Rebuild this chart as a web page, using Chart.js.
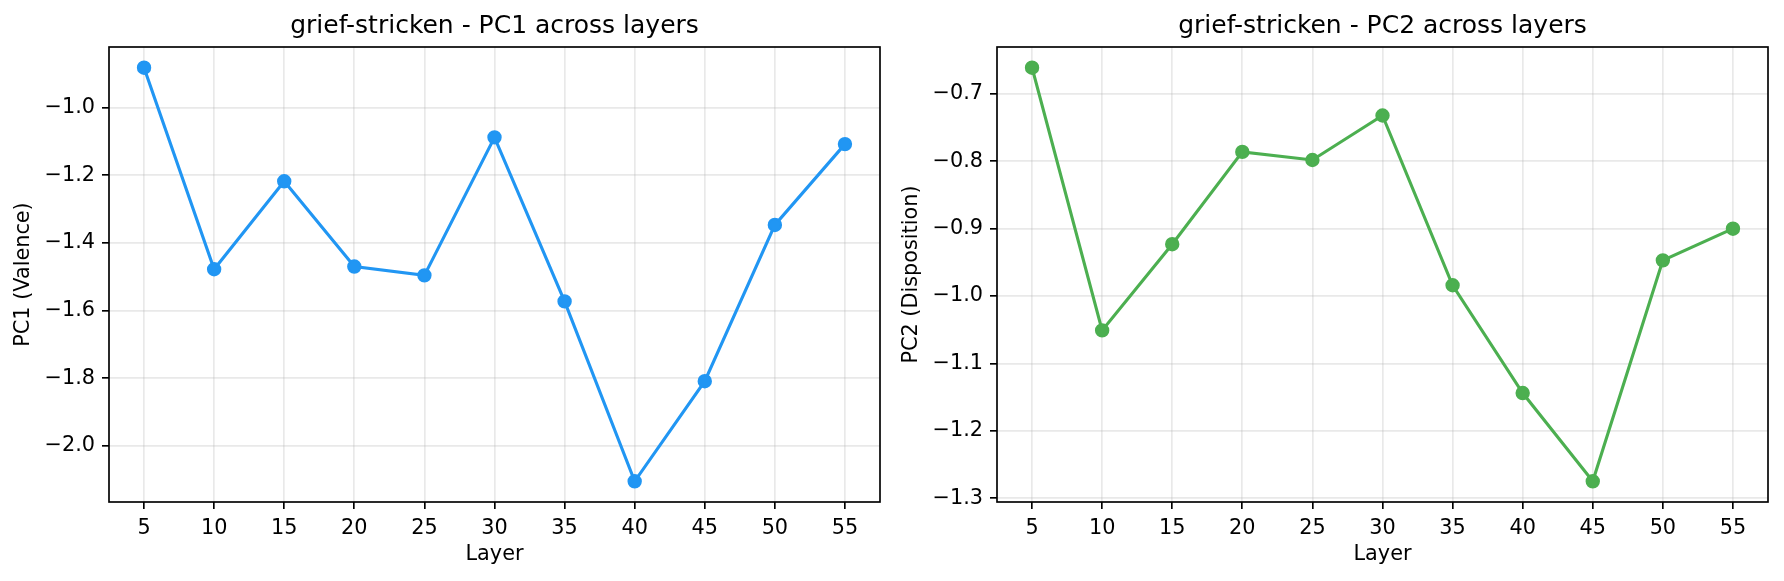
<!DOCTYPE html>
<html>
<head>
<meta charset="utf-8">
<script src="https://cdn.jsdelivr.net/npm/chart.js@4.4.0/dist/chart.umd.min.js"></script>
<style>
  html, body { margin: 0; padding: 0; background: #ffffff; }
  #wrap { position: relative; width: 1784px; height: 581px; overflow: hidden; background: #fff; }
  .panel { position: absolute; top: 0; width: 892px; height: 581px; }
</style>
</head>
<body>
<div id="wrap">
  <div class="panel" style="left:0px"><canvas id="c1" width="892" height="581"></canvas></div>
  <div class="panel" style="left:892px"><canvas id="c2" width="892" height="581"></canvas></div>
</div>
<script>
// ---- data ----
const layers = [5, 10, 15, 20, 25, 30, 35, 40, 45, 50, 55];
const pc1Values = [-0.882, -1.478, -1.218, -1.470, -1.496, -1.088, -1.573, -2.105, -1.809, -1.347, -1.108];
const pc2Values = [-0.661, -1.051, -0.923, -0.786, -0.798, -0.732, -0.984, -1.144, -1.275, -0.947, -0.900];
const xTicks = [5, 10, 15, 20, 25, 30, 35, 40, 45, 50, 55];
const pc1Ticks = [-2.0, -1.8, -1.6, -1.4, -1.2, -1.0];
const pc2Ticks = [-1.3, -1.2, -1.1, -1.0, -0.9, -0.8, -0.7];
const titles = ['grief-stricken - PC1 across layers', 'grief-stricken - PC2 across layers'];
const yLabels = ['PC1 (Valence)', 'PC2 (Disposition)'];
const xLabel = 'Layer';

const FONT = '"DejaVu Sans", Verdana, sans-serif';
const GRID = 'rgba(176,176,176,0.28)';
const LW = 150 / 72; // px per point

function range(vals) {
  const mn = Math.min(...vals), mx = Math.max(...vals);
  const pad = (mx - mn) * 0.05;
  return [mn - pad, mx + pad];
}
const xr = range(layers);

const frameTitlePlugin = {
  id: 'frameTitle',
  afterDraw(chart, args, opts) {
    const {ctx, chartArea: a} = chart;
    ctx.save();
    ctx.strokeStyle = '#000';
    ctx.lineWidth = 0.8 * LW;
    ctx.strokeRect(a.left, a.top, a.right - a.left, a.bottom - a.top);
    ctx.fillStyle = '#000';
    ctx.font = '25px ' + FONT;
    ctx.textAlign = 'center';
    ctx.textBaseline = 'alphabetic';
    ctx.fillText(opts.text, (a.left + a.right) / 2, 33);
    ctx.restore();
  }
};

function fmt(v) {
  return v.toFixed(1).replace('-', '\u2212');
}

function makeChart(id, values, yTicks, color, title, yLabel, yWidth, rightPad, yTitlePad) {
  const yr = range(values);
  return new Chart(document.getElementById(id), {
    type: 'line',
    data: {
      datasets: [{
        data: layers.map((x, i) => ({x: x, y: values[i]})),
        borderColor: color,
        backgroundColor: color,
        pointBackgroundColor: color,
        pointBorderColor: color,
        borderWidth: 1.5 * LW,
        pointRadius: 6.2,
        pointBorderWidth: 2,
        pointHoverRadius: 6.2,
        tension: 0,
        fill: false,
        clip: false
      }]
    },
    options: {
      responsive: false,
      animation: false,
      events: [],
      devicePixelRatio: 1,
      layout: { autoPadding: false, padding: { left: 0, right: rightPad, top: 47, bottom: 0 } },
      plugins: {
        legend: { display: false },
        tooltip: { enabled: false },
        title: { display: false },
        frameTitle: { text: title }
      },
      scales: {
        x: {
          type: 'linear',
          min: xr[0], max: xr[1],
          afterBuildTicks: s => { s.ticks = xTicks.map(v => ({value: v})); },
          afterFit: s => { s.height = 79; },
          grid: {
            color: GRID, lineWidth: 0.8 * LW, drawTicks: true, tickLength: 7,
            tickColor: '#000', tickWidth: 0.8 * LW
          },
          border: { display: false },
          ticks: {
            autoSkip: false, maxRotation: 0, padding: 7,
            color: '#000', font: { family: FONT, size: 20.8 },
            callback: v => String(v)
          },
          title: {
            display: true, text: xLabel, color: '#000',
            font: { family: FONT, size: 20.8 }, padding: { top: 0, bottom: 14 }
          }
        },
        y: {
          type: 'linear',
          min: yr[0], max: yr[1],
          afterBuildTicks: s => { s.ticks = yTicks.map(v => ({value: v})); },
          afterFit: s => { s.width = yWidth; },
          grid: {
            color: GRID, lineWidth: 0.8 * LW, drawTicks: true, tickLength: 7,
            tickColor: '#000', tickWidth: 0.8 * LW
          },
          border: { display: false },
          ticks: {
            autoSkip: false, padding: 7,
            color: '#000', font: { family: FONT, size: 20.8 },
            callback: v => fmt(v)
          },
          title: {
            display: true, text: yLabel, color: '#000',
            font: { family: FONT, size: 20.8 }, padding: { top: yTitlePad, bottom: 0 }
          }
        }
      }
    },
    plugins: [frameTitlePlugin]
  });
}

makeChart('c1', pc1Values, pc1Ticks, '#2196F3', titles[0], yLabels[0], 109, 12, 11);
makeChart('c2', pc2Values, pc2Ticks, '#4CAF50', titles[1], yLabels[1], 105, 16, 7);
</script>
</body>
</html>
